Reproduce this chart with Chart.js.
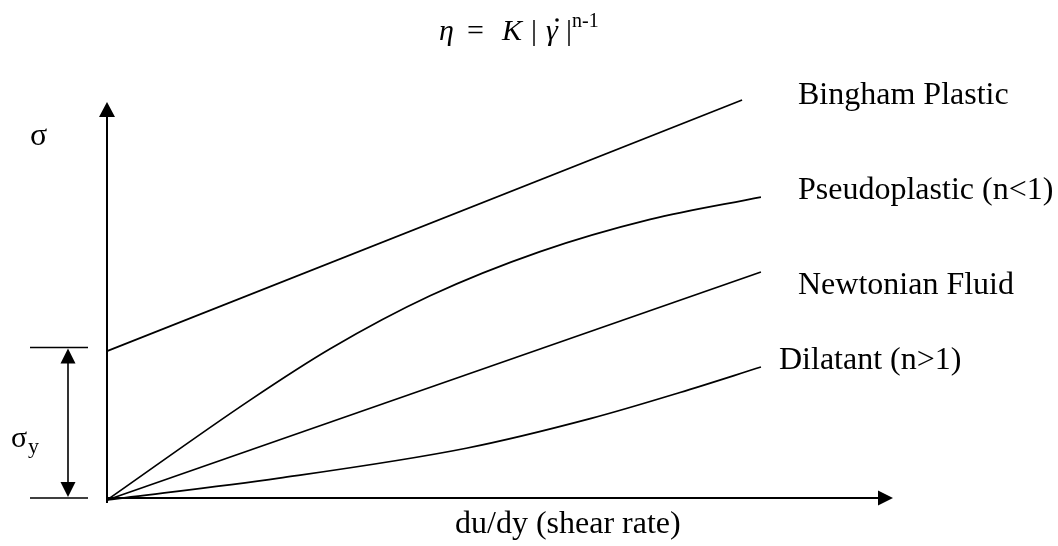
<!DOCTYPE html>
<html>
<head>
<meta charset="utf-8">
<script src="https://cdn.jsdelivr.net/npm/chart.js@4.4.1/dist/chart.umd.min.js"></script>
<style>
  html, body { margin: 0; padding: 0; background: #fff; }
  #wrap { width: 1058px; height: 546px; position: relative; }
</style>
</head>
<body>
<div id="wrap"><canvas id="chart" width="1058" height="546"></canvas></div>
<script>
// curve data (arbitrary units: x = shear rate, y = stress)
const binghamX = [0, 8.08];
const binghamY = [3.69, 10.0];
const pseudoX = [0, 1.82, 2.84, 4.11, 5.51, 6.91, 8.32];
const pseudoY = [-0.05, 2.46, 3.75, 5.08, 6.19, 7.00, 7.56];
const newtonX = [0, 8.32];
const newtonY = [-0.05, 5.68];
const dilatantX = [0, 2.19, 4.57, 6.16, 7.29, 8.32];
const dilatantY = [-0.05, 0.5, 1.25, 2.0, 2.65, 3.29];

const seriesNames = ["Bingham Plastic", "Pseudoplastic (n<1)", "Newtonian Fluid", "Dilatant (n>1)"];
const yieldStress = 3.78;
const xAxisMax = 10;
const yAxisMax = 9.95;

const SERIF = '"Liberation Serif", "Times New Roman", serif';

function pts(xs, ys) {
  return xs.map((x, i) => ({ x: x, y: ys[i] }));
}

function arrowHead(ctx, tipX, tipY, dir, len, half) {
  ctx.beginPath();
  if (dir === "up") {
    ctx.moveTo(tipX, tipY);
    ctx.lineTo(tipX - half, tipY + len);
    ctx.lineTo(tipX + half, tipY + len);
  } else if (dir === "down") {
    ctx.moveTo(tipX, tipY);
    ctx.lineTo(tipX - half, tipY - len);
    ctx.lineTo(tipX + half, tipY - len);
  } else {
    ctx.moveTo(tipX, tipY);
    ctx.lineTo(tipX - len, tipY - half);
    ctx.lineTo(tipX - len, tipY + half);
  }
  ctx.closePath();
  ctx.fill();
}

const diagramPlugin = {
  id: "diagram",
  afterDraw(chart) {
    const ctx = chart.ctx;
    const xs = chart.scales.x;
    const ys = chart.scales.y;
    const x0 = xs.getPixelForValue(0);
    const y0 = ys.getPixelForValue(0);
    ctx.save();
    ctx.fillStyle = "#000";
    ctx.strokeStyle = "#000";

    // axes
    ctx.lineWidth = 2;
    const yTop = ys.getPixelForValue(yAxisMax);
    const xEnd = xs.getPixelForValue(xAxisMax);
    ctx.beginPath();
    ctx.moveTo(x0, y0 + 5);
    ctx.lineTo(x0, yTop + 10);
    ctx.moveTo(x0, y0);
    ctx.lineTo(xEnd - 10, y0);
    ctx.stroke();
    arrowHead(ctx, x0, yTop, "up", 15, 8);
    arrowHead(ctx, xEnd, y0, "right", 15, 7.5);

    // yield stress dimension
    const yY = ys.getPixelForValue(yieldStress);
    ctx.lineWidth = 1.6;
    ctx.beginPath();
    ctx.moveTo(30, yY); ctx.lineTo(88, yY);
    ctx.moveTo(30, y0); ctx.lineTo(88, y0);
    ctx.moveTo(68, yY + 10); ctx.lineTo(68, y0 - 10);
    ctx.stroke();
    arrowHead(ctx, 68, yY + 1, "up", 15, 7.5);
    arrowHead(ctx, 68, y0 - 1, "down", 15, 7.5);

    // text
    ctx.textBaseline = "alphabetic";
    ctx.textAlign = "left";
    ctx.font = "32px " + SERIF;
    ctx.fillText(seriesNames[0], 798, 104);
    ctx.fillText(seriesNames[1], 798, 199);
    ctx.fillText(seriesNames[2], 798, 294);
    ctx.fillText(seriesNames[3], 779, 369);
    ctx.fillText("du/dy (shear rate)", 455, 533);
    ctx.fillText("\u03c3", 30, 145);
    ctx.font = "30px " + SERIF;
    ctx.fillText("\u03c3", 11, 447);
    ctx.font = "22px " + SERIF;
    ctx.fillText("y", 28, 453);

    // formula
    ctx.font = "italic 30px " + SERIF;
    ctx.fillText("\u03b7", 439, 40);
    ctx.fillText("K", 502, 40);
    ctx.fillText("\u03b3", 546, 40);
    ctx.font = "30px " + SERIF;
    ctx.fillText("=", 467, 40);
    ctx.fillText("|", 531, 40);
    ctx.fillText("|", 566, 40);
    ctx.beginPath();
    ctx.arc(557, 20, 1.8, 0, Math.PI * 2);
    ctx.fill();
    ctx.font = "20px " + SERIF;
    ctx.fillText("n-1", 572, 27);
    ctx.restore();
  }
};

const lineStyle = {
  borderColor: "#000",
  borderWidth: 1.7,
  pointRadius: 0,
  fill: false,
  clip: false
};

new Chart(document.getElementById("chart"), {
  type: "line",
  data: {
    datasets: [
      Object.assign({ label: seriesNames[0], data: pts(binghamX, binghamY) }, lineStyle),
      Object.assign({ label: seriesNames[1], data: pts(pseudoX, pseudoY), cubicInterpolationMode: "monotone" }, lineStyle),
      Object.assign({ label: seriesNames[2], data: pts(newtonX, newtonY) }, lineStyle),
      Object.assign({ label: seriesNames[3], data: pts(dilatantX, dilatantY), cubicInterpolationMode: "monotone" }, lineStyle)
    ]
  },
  options: {
    responsive: false,
    animation: false,
    layout: { padding: { left: 107, right: 165, top: 100, bottom: 48 } },
    plugins: { legend: { display: false }, tooltip: { enabled: false } },
    scales: {
      x: { type: "linear", min: 0, max: 10, display: false },
      y: { type: "linear", min: 0, max: 10, display: false }
    }
  },
  plugins: [diagramPlugin]
});
</script>
</body>
</html>
